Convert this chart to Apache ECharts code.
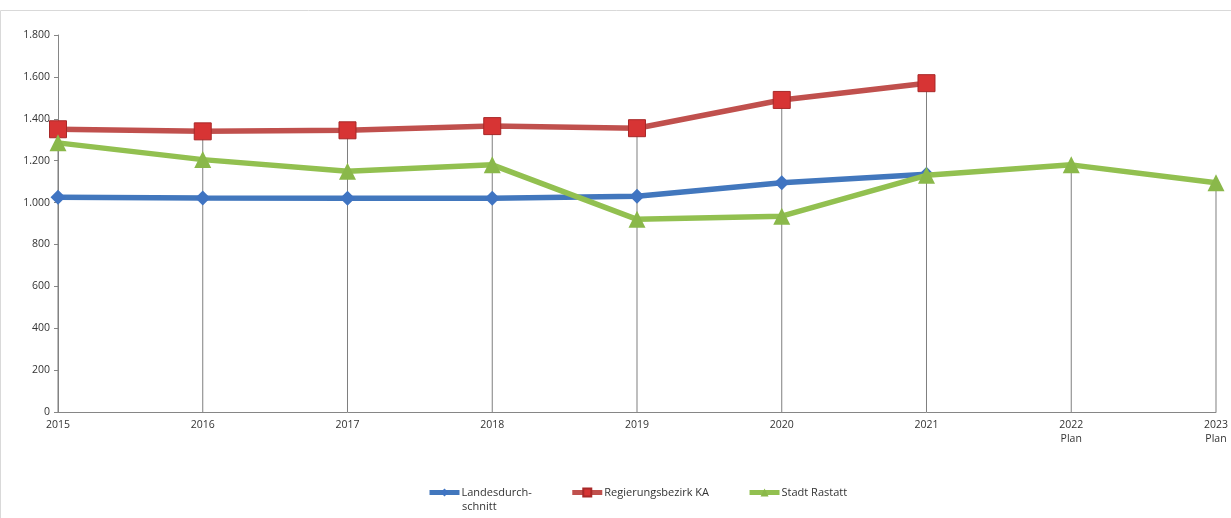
<!DOCTYPE html>
<html><head><meta charset="utf-8">
<script src="https://cdn.jsdelivr.net/npm/echarts@6/dist/echarts.min.js"></script>
<style>html,body{margin:0;padding:0;background:#fff}#c{width:1231px;height:518px}</style>
</head><body><div id="c"></div>
<script>
const categories = ['2015','2016','2017','2018','2019','2020','2021','2022\nPlan','2023\nPlan'];
const seriesNames = ['Landesdurch-\nschnitt', 'Regierungsbezirk KA', 'Stadt Rastatt'];
const landesdurchschnitt = [1025, 1022, 1020, 1020, 1030, 1095, 1135, null, null];
const regierungsbezirkKA = [1350, 1340, 1345, 1365, 1355, 1490, 1570, null, null];
const stadtRastatt = [1285, 1205, 1150, 1180, 920, 935, 1130, 1180, 1095];
const yTicks = [0, 200, 400, 600, 800, 1000, 1200, 1400, 1600, 1800];

const dropTops = categories.map((_, i) => {
  const v = [landesdurchschnitt[i], regierungsbezirkKA[i], stadtRastatt[i]].filter(x => x != null);
  return Math.max(...v);
});
const fmt = v => String(v).replace(/\B(?=(\d{3})+(?!\d))/g, '.');
const font = 'Open Sans';
const chart = echarts.init(document.getElementById('c'));
chart.setOption({
  animation: false,
  textStyle: { fontFamily: font },
  graphic: [
    { type: 'rect', shape: { x: 0.5, y: 10.5, width: 1240, height: 520 }, style: { fill: 'none', stroke: '#d9d9d9', lineWidth: 1 }, silent: true },
    { type: 'text', left: 462, top: 501, style: { text: seriesNames[0].split('\n')[1], fill: '#333', fontSize: 11, fontFamily: font }, silent: true }
  ],
  grid: { left: 58, right: 15, top: 35, bottom: 106, containLabel: false },
  xAxis: {
    type: 'category', data: categories, boundaryGap: false,
    axisLine: { lineStyle: { color: '#868686', width: 1 } },
    axisTick: { show: false },
    axisLabel: { color: '#333', fontSize: 10.5, fontFamily: font, margin: 6, lineHeight: 14, interval: 0 },
    splitLine: { show: false }
  },
  yAxis: {
    type: 'value', min: yTicks[0], max: yTicks[yTicks.length - 1], interval: 200,
    axisLine: { show: true, lineStyle: { color: '#868686', width: 1 } },
    axisTick: { show: true, length: 4, lineStyle: { color: '#868686' } },
    axisLabel: { color: '#333', fontSize: 10.5, fontFamily: font, margin: 8, formatter: v => fmt(v) },
    splitLine: { show: false }
  },
  legend: {
    top: 482, left: 422, itemWidth: 30, itemHeight: 10, itemGap: 38,
    lineStyle: { width: 5 },
    formatter: n => n.split('\n')[0],
    textStyle: { fontSize: 11, color: '#333', fontFamily: font, padding: [0, 0, 0, -3] },
    data: seriesNames
  },
  series: [
    { type: 'bar', data: dropTops, barWidth: 1, silent: true, itemStyle: { color: '#7f7f7f' }, z: 1, legendHoverLink: false },
    { name: seriesNames[0], type: 'line', data: landesdurchschnitt, symbol: 'diamond', symbolSize: 15,
      lineStyle: { color: '#4277bd', width: 5.5 }, itemStyle: { color: '#3f74c2' }, z: 3 },
    { name: seriesNames[1], type: 'line', data: regierungsbezirkKA, symbol: 'rect', symbolSize: 17,
      lineStyle: { color: '#c0504d', width: 5.5 }, itemStyle: { color: '#d73434', borderColor: '#a82828', borderWidth: 1 }, z: 4 },
    { name: seriesNames[2], type: 'line', data: stadtRastatt, symbol: 'triangle', symbolSize: [17, 17],
      lineStyle: { color: '#92c050', width: 5.5 }, itemStyle: { color: '#8ab84a' }, z: 5 }
  ]
});
</script></body></html>
